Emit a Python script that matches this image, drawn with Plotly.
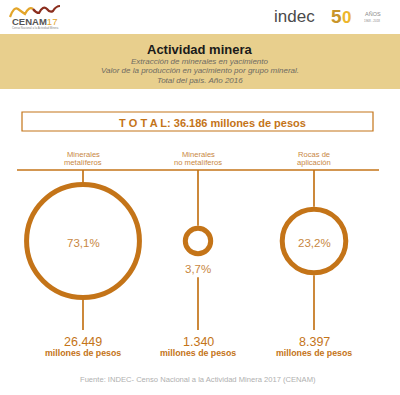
import math
import plotly.graph_objects as go

# ---- data ----
categories = ["Minerales<br>metalíferos", "Minerales<br>no metalíferos", "Rocas de<br>aplicación"]
percent = [73.1, 3.7, 23.2]
values_mill = [26449, 1340, 8397]
total_mill = 36186
title = "Actividad minera"
subtitle = ["Extracción de minerales en yacimiento",
            "Valor de la producción en yacimiento por grupo mineral.",
            "Total del país. Año 2016"]
source = "Fuente: INDEC- Censo Nacional a la Actividad Minera 2017 (CENAM)"

# ---- layout constants ----
W, H = 400, 395
FONT = "Liberation Sans, Arial, Helvetica, sans-serif"
ORANGE = "#C47418"
LABEL = "#C8873F"
BAND = "#E8CF8D"
col_x = [83, 198, 314]
cy = 241
bar_y = 170
bottom_y = 330
k = 6.6           # px per sqrt(%) (radius)
ring_w = 5

def fmt_pct(p):
    return f"{p:.1f}".replace(".", ",") + "%"

def fmt_num(v):
    return f"{v:,}".replace(",", ".")

diam = [2 * k * math.sqrt(p) for p in percent]

fig = go.Figure()

shapes = []
annotations = []

# header band
shapes.append(dict(type="rect", x0=0, x1=W, y0=34, y1=89, fillcolor=BAND, line=dict(width=0), layer="below"))
annotations.append(dict(x=200, y=49, text=f"<b>{title}</b>", font=dict(size=13, color="#1a1a1a", family=FONT)))
for i, s in enumerate(subtitle):
    annotations.append(dict(x=200, y=61.5 + i * 9.3, text=f"<i>{s}</i>", font=dict(size=8, color="#6E6A62", family=FONT)))

# total box
shapes.append(dict(type="rect", x0=22, x1=373, y0=112, y1=131, line=dict(color=ORANGE, width=1.2), fillcolor="rgba(0,0,0,0)"))
total_txt = " ".join("TOTAL") + f": {fmt_num(total_mill)} millones de pesos"
annotations.append(dict(x=212, y=122.5, text=f"<b>{total_txt}</b>", font=dict(size=11, color=ORANGE, family=FONT)))

# horizontal bar
shapes.append(dict(type="line", x0=17, x1=379, y0=bar_y, y1=bar_y, line=dict(color=ORANGE, width=1.7)))

for x, cat, p, d, v in zip(col_x, categories, percent, diam, values_mill):
    r_out = d / 2 + ring_w / 2
    lines = cat.split("<br>")
    for j, ln in enumerate(lines):
        annotations.append(dict(x=x, y=154 + j * 8.7, text=ln, font=dict(size=7.6, color=LABEL, family=FONT)))
    # top connector
    shapes.append(dict(type="line", x0=x, x1=x, y0=bar_y, y1=cy - r_out, line=dict(color=ORANGE, width=1.7)))
    if r_out < 22:
        ly = cy + r_out + 13
        annotations.append(dict(x=x, y=ly, text=fmt_pct(p), font=dict(size=11.5, color=LABEL, family=FONT)))
        y_start = ly + 8
    else:
        annotations.append(dict(x=x, y=cy + 1.5, text=fmt_pct(p), font=dict(size=11.5, color=LABEL, family=FONT)))
        y_start = cy + r_out
    shapes.append(dict(type="line", x0=x, x1=x, y0=y_start, y1=bottom_y, line=dict(color=ORANGE, width=1.7)))
    annotations.append(dict(x=x, y=342, text=fmt_num(v), font=dict(size=12.5, color=ORANGE, family=FONT)))
    annotations.append(dict(x=x, y=352.5, text="<b>millones de pesos</b>", font=dict(size=8.8, color=ORANGE, family=FONT)))

fig.add_trace(go.Scatter(
    x=col_x, y=[cy] * 3, mode="markers",
    marker=dict(size=diam, color="white", opacity=1, symbol="circle", line=dict(color=ORANGE, width=ring_w)),
    hoverinfo="skip", showlegend=False, cliponaxis=False,
))

# source
annotations.append(dict(x=198, y=379, text=source, font=dict(size=7.6, color="#B0B0B0", family=FONT)))

# logos (as text + decorative wave)
shapes.append(dict(type="path", path="M 10 17 Q 14 6 18 9 Q 22 12 25 14 Q 29 6 33 9",
                   line=dict(color="#E3A52A", width=2.2)))
shapes.append(dict(type="path", path="M 33 9 Q 36 13 39 13 Q 43 5 47 9 Q 50 13 53 11 Q 56 6 60 6",
                   line=dict(color="#8B2E1E", width=2.2)))
annotations.append(dict(x=10, y=21, xanchor="left", text="<b>CENAM</b><span style='color:#E3A52A'>17</span>",
                        font=dict(size=9.5, color="#555555", family=FONT)))
annotations.append(dict(x=10, y=28, xanchor="left", text="Censo Nacional a la Actividad Minera",
                        font=dict(size=2.8, color="#888888", family=FONT)))
annotations.append(dict(x=272, y=16, xanchor="left", text="indec", font=dict(size=17, color="#4a4a4a", family=FONT)))
annotations.append(dict(x=329, y=16, xanchor="left", text="<b>5</b>", font=dict(size=19, color="#C8952A", family=FONT)))
annotations.append(dict(x=340, y=17, xanchor="left", text="<b>0</b>", font=dict(size=17, color="#EDB62C", family=FONT)))
annotations.append(dict(x=363, y=14, xanchor="left", text="AÑOS", font=dict(size=5.5, color="#888888", family=FONT)))
annotations.append(dict(x=362, y=21, xanchor="left", text="1968 - 2018", font=dict(size=3, color="#888888", family=FONT)))

for a in annotations:
    a.setdefault("xref", "x")
    a.setdefault("yref", "y")
    a.setdefault("showarrow", False)
    a.setdefault("yanchor", "middle")
for s in shapes:
    s.setdefault("xref", "x")
    s.setdefault("yref", "y")

fig.update_layout(
    width=W, height=H,
    margin=dict(l=0, r=0, t=0, b=0),
    paper_bgcolor="white", plot_bgcolor="white",
    xaxis=dict(range=[0, W], visible=False, fixedrange=True),
    yaxis=dict(range=[H, 0], visible=False, fixedrange=True),
    shapes=shapes, annotations=annotations,
    showlegend=False,
)

fig.write_html("out.html", config={"displayModeBar": False},
               post_script="document.body.style.margin='0';document.body.style.overflow='hidden';")
